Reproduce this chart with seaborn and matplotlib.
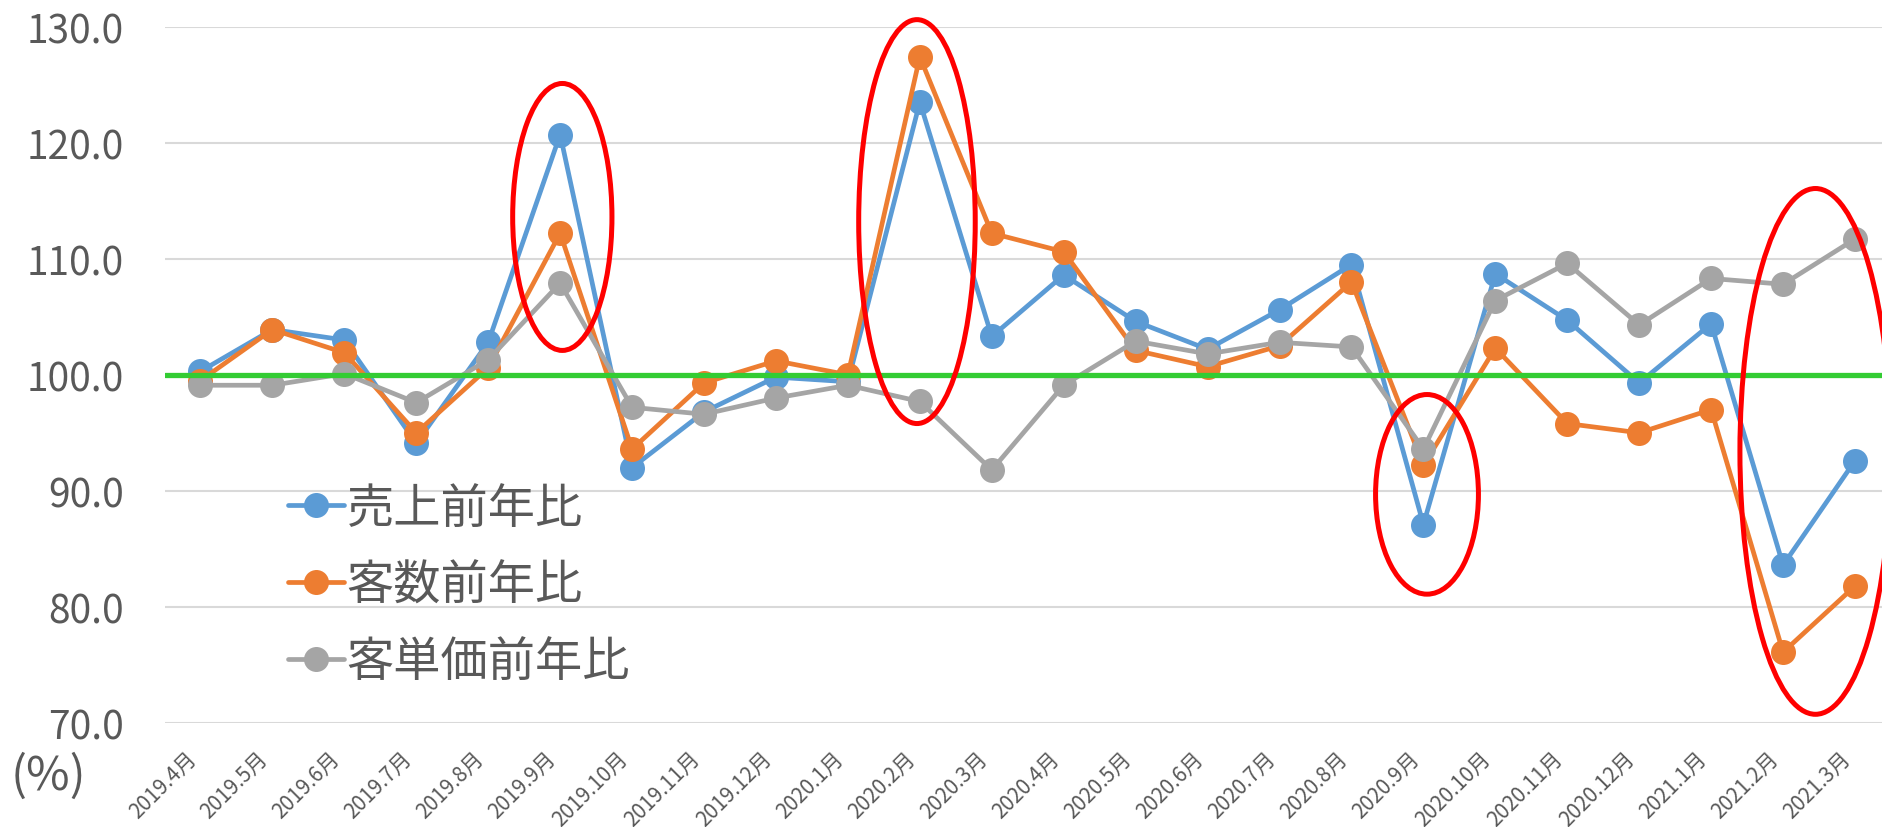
import numpy as np
import pandas as pd
import matplotlib
matplotlib.use("Agg")
import matplotlib.pyplot as plt
from matplotlib.lines import Line2D
from matplotlib.patches import Ellipse
import seaborn as sns

# data
months = ["2019.4月", "2019.5月", "2019.6月", "2019.7月", "2019.8月", "2019.9月",
          "2019.10月", "2019.11月", "2019.12月", "2020.1月", "2020.2月", "2020.3月",
          "2020.4月", "2020.5月", "2020.6月", "2020.7月", "2020.8月", "2020.9月",
          "2020.10月", "2020.11月", "2020.12月", "2021.1月", "2021.2月", "2021.3月"]
sales = [100.3, 103.9, 103.0, 94.1, 102.8, 120.7, 92.0, 96.8, 99.8, 99.4, 123.5, 103.3,
         108.6, 104.6, 102.2, 105.6, 109.5, 87.1, 108.7, 104.7, 99.3, 104.4, 83.6, 92.6]
customers = [99.5, 103.9, 101.9, 95.0, 100.6, 112.2, 93.6, 99.3, 101.2, 100.0, 127.4, 112.2,
             110.6, 102.1, 100.7, 102.5, 108.0, 92.2, 102.3, 95.8, 95.0, 97.0, 76.1, 81.8]
unit_price = [99.1, 99.1, 100.1, 97.6, 101.3, 107.9, 97.2, 96.6, 98.0, 99.1, 97.7, 91.8,
              99.1, 102.9, 101.8, 102.8, 102.4, 93.6, 106.4, 109.6, 104.3, 108.3, 107.8, 111.7]
series_names = ["売上前年比", "客数前年比", "客単価前年比"]
colors = ["#5B9BD5", "#ED7D31", "#A5A5A5"]
yticks = [70, 80, 90, 100, 110, 120, 130]
baseline = 100

# red circles drawn over the chart: (x centre, y centre, width, height)
highlights = [(5.03, 113.6, 1.38, 23.0),
              (9.96, 113.2, 1.62, 34.8),
              (17.05, 89.7, 1.43, 17.2),
              (22.45, 93.4, 2.1, 45.3)]

sns.set_theme(style="white")
plt.rcParams["font.family"] = ["Noto Sans CJK JP", "DejaVu Sans"]

df = pd.DataFrame({
    "idx": list(range(len(months))) * 3,
    "value": sales + customers + unit_price,
    "series": np.repeat(series_names, len(months)),
})

W, H = 1883, 828
fig = plt.figure(figsize=(W / 100, H / 100), dpi=100)
ax = fig.add_axes([164.5 / W, 1 - 724 / H, (1891 - 164.5) / W, (724 - 27.6) / H])

sns.lineplot(data=df, x="idx", y="value", hue="series", hue_order=series_names,
             palette=colors, marker="o", markersize=18, markeredgewidth=0,
             linewidth=3.4, sort=False, legend=False, ax=ax)

ax.axhline(baseline, color="#33CC33", lw=3.8, zorder=5)

for cx, cy, w, h in highlights:
    ax.add_patch(Ellipse((cx, cy), w, h, fill=False, edgecolor="#FF0000",
                         lw=3.6, zorder=6, clip_on=False))

ax.set_xlim(-0.5, len(months) - 0.5)
ax.set_ylim(70, 130)
ax.set_yticks(yticks)
ax.set_yticklabels([f"{v:.1f}" for v in yticks], fontsize=28, color="#595959")
ax.set_xticks(range(len(months)))
ax.set_xticklabels(months, rotation=45, ha="right", fontsize=15, color="#595959")
ax.tick_params(axis="y", length=0, pad=29)
ax.tick_params(axis="x", length=0, pad=17)
ax.set_xlabel("")
ax.set_ylabel("")
ax.grid(axis="y", color="#D9D9D9", lw=1.5)
ax.grid(axis="x", visible=False)
ax.set_axisbelow(True)
sns.despine(ax=ax, left=True, bottom=True)

fig.text(48.5 / W, 1 - 777 / H, "(%)", ha="center", va="center", fontsize=34, color="#595959")

handles = [Line2D([], [], color=c, marker="o", markersize=18, markeredgewidth=0, lw=3.4)
           for c in colors]
leg = fig.legend(handles, series_names, loc="upper left",
                 bbox_to_anchor=(288 / W, 1 - 485 / H), bbox_transform=fig.transFigure,
                 frameon=False, fontsize=34, handlelength=1.18, handletextpad=0.06,
                 labelspacing=0.6, borderpad=0, borderaxespad=0)
for t in leg.get_texts():
    t.set_color("#595959")

fig.savefig("out.png", dpi=100)
